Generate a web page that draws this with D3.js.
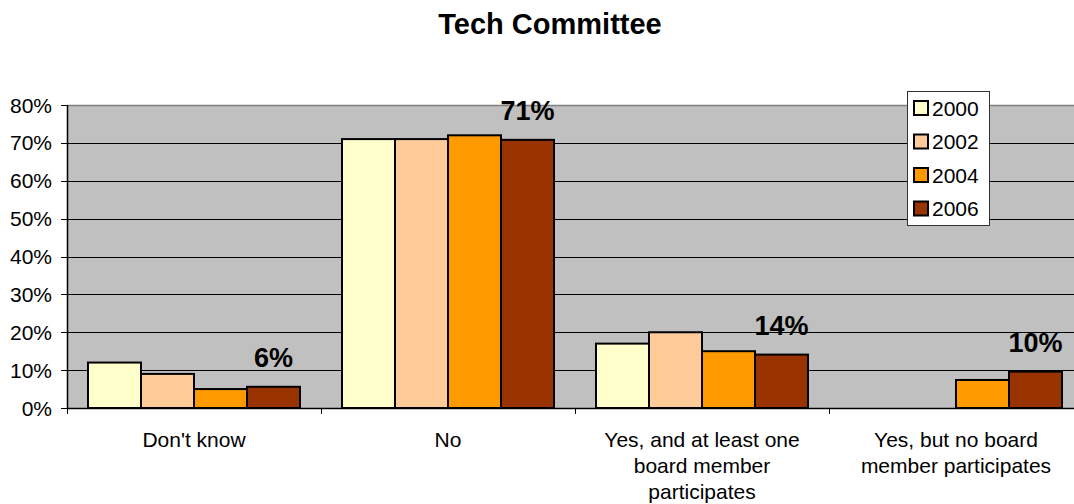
<!DOCTYPE html>
<html>
<head>
<meta charset="utf-8">
<script src="https://cdn.jsdelivr.net/npm/d3@7"></script>
<style>
  html, body { margin: 0; padding: 0; background: #fff; }
  svg { display: block; font-family: "Liberation Sans", Arial, sans-serif; }
</style>
</head>
<body>
<svg id="chart" width="1074" height="504"></svg>
<script>
// Survey responses: does the board have a tech committee?
const categories = [
  "Don't know",
  "No",
  "Yes, and at least one\nboard member\nparticipates",
  "Yes, but no board\nmember participates"
];
const years = ["2000", "2002", "2004", "2006"];
const values2000 = [0.12, 0.71, 0.17, null];
const values2002 = [0.09, 0.71, 0.20, null];
const values2004 = [0.05, 0.72, 0.15, 0.074];
const values2006 = [0.056, 0.708, 0.141, 0.096];
const yTicks = [0, 0.1, 0.2, 0.3, 0.4, 0.5, 0.6, 0.7, 0.8];
const seriesColors = ["#FFFFCC", "#FFCC99", "#FF9900", "#993300"];

const series = [values2000, values2002, values2004, values2006];

const svg = d3.select("#chart");

const plot = { left: 67, right: 1083, top: 105, bottom: 408 };

const x0 = d3.scaleBand()
  .domain(categories)
  .range([plot.left, plot.right])
  .paddingInner(42 / 254)
  .paddingOuter(21 / 254);

const x1 = d3.scaleBand()
  .domain(years)
  .range([0, x0.bandwidth()]);

const y = d3.scaleLinear()
  .domain([0, 0.8])
  .range([plot.bottom, plot.top]);

const fmt = d3.format(".0%");

// Title
svg.append("text")
  .attr("x", 550)
  .attr("y", 34)
  .attr("text-anchor", "middle")
  .attr("font-size", 29)
  .attr("font-weight", "bold")
  .attr("fill", "#000")
  .text("Tech Committee");

// Plot background
svg.append("rect")
  .attr("x", plot.left)
  .attr("y", plot.top)
  .attr("width", plot.right - plot.left)
  .attr("height", plot.bottom - plot.top)
  .attr("fill", "#C0C0C0");

// Gridlines
svg.append("g")
  .selectAll("line")
  .data(yTicks.filter(t => t > 0 && t < 0.8))
  .join("line")
  .attr("x1", plot.left)
  .attr("x2", plot.right)
  .attr("y1", d => Math.round(y(d)) + 0.5)
  .attr("y2", d => Math.round(y(d)) + 0.5)
  .attr("stroke", "#000")
  .attr("stroke-width", 1);

// Top border of plot area
svg.append("line")
  .attr("x1", plot.left)
  .attr("x2", plot.right)
  .attr("y1", plot.top + 0.5)
  .attr("y2", plot.top + 0.5)
  .attr("stroke", "#808080")
  .attr("stroke-width", 1.5);

// Bars
const groups = svg.append("g")
  .selectAll("g")
  .data(categories)
  .join("g")
  .attr("transform", d => `translate(${x0(d)},0)`);

groups.selectAll("rect")
  .data((c, ci) => years.map((yr, si) => ({ yr, si, v: series[si][ci] })).filter(d => d.v != null))
  .join("rect")
  .attr("x", d => x1(d.yr))
  .attr("y", d => y(d.v))
  .attr("width", x1.bandwidth())
  .attr("height", d => y(0) - y(d.v))
  .attr("fill", d => seriesColors[d.si])
  .attr("stroke", "#000")
  .attr("stroke-width", 2);

// Value labels on the 2006 series
groups.append("text")
  .datum((c, ci) => values2006[ci])
  .attr("x", x1("2006") + x1.bandwidth() / 2)
  .attr("y", d => y(d) - 20)
  .attr("text-anchor", "middle")
  .attr("font-size", 27)
  .attr("font-weight", "bold")
  .attr("fill", "#000")
  .text(d => fmt(d));

// Y axis
const yAxis = svg.append("g");
yAxis.append("line")
  .attr("x1", plot.left + 0.5).attr("x2", plot.left + 0.5)
  .attr("y1", plot.top).attr("y2", plot.bottom)
  .attr("stroke", "#000").attr("stroke-width", 1.5);
yAxis.selectAll("line.tick")
  .data(yTicks)
  .join("line")
  .attr("class", "tick")
  .attr("x1", plot.left - 6).attr("x2", plot.left)
  .attr("y1", d => Math.round(y(d)) + 0.5)
  .attr("y2", d => Math.round(y(d)) + 0.5)
  .attr("stroke", "#000");
yAxis.selectAll("text")
  .data(yTicks)
  .join("text")
  .attr("x", 52)
  .attr("y", d => y(d))
  .attr("dy", "0.36em")
  .attr("text-anchor", "end")
  .attr("font-size", 21)
  .attr("fill", "#000")
  .text(d => fmt(d));

// X axis
const xAxis = svg.append("g");
xAxis.append("line")
  .attr("x1", plot.left).attr("x2", plot.right)
  .attr("y1", plot.bottom + 0.5).attr("y2", plot.bottom + 0.5)
  .attr("stroke", "#000").attr("stroke-width", 1.5);
const bounds = categories.map(c => x0(c) - x0.step() * x0.paddingInner() / 2).concat([plot.right]);
xAxis.selectAll("line.tick")
  .data(bounds)
  .join("line")
  .attr("class", "tick")
  .attr("x1", d => Math.round(d) + 0.5).attr("x2", d => Math.round(d) + 0.5)
  .attr("y1", plot.bottom).attr("y2", plot.bottom + 6)
  .attr("stroke", "#000");
xAxis.selectAll("text")
  .data(categories)
  .join("text")
  .attr("x", d => x0(d) + x0.bandwidth() / 2)
  .attr("y", 447)
  .attr("text-anchor", "middle")
  .attr("font-size", 21)
  .attr("fill", "#000")
  .each(function (d) {
    const t = d3.select(this);
    d.split("\n").forEach((line, i) => {
      t.append("tspan")
        .attr("x", x0(d) + x0.bandwidth() / 2)
        .attr("dy", i === 0 ? 0 : 26)
        .text(line);
    });
  });

// Legend
const legend = svg.append("g").attr("transform", "translate(907,91)");
legend.append("rect")
  .attr("x", 0.5).attr("y", 0.5)
  .attr("width", 82).attr("height", 134)
  .attr("fill", "#fff")
  .attr("stroke", "#333")
  .attr("stroke-width", 1);
const items = legend.selectAll("g.item")
  .data(years)
  .join("g")
  .attr("class", "item")
  .attr("transform", (d, i) => `translate(0,${17 + i * 33.5})`);
items.append("rect")
  .attr("x", 7).attr("y", -7)
  .attr("width", 14).attr("height", 14)
  .attr("fill", (d, i) => seriesColors[i])
  .attr("stroke", "#000")
  .attr("stroke-width", 2);
items.append("text")
  .attr("x", 25)
  .attr("y", 0)
  .attr("dy", "0.36em")
  .attr("font-size", 21)
  .attr("fill", "#000")
  .text(d => d);
</script>
</body>
</html>
